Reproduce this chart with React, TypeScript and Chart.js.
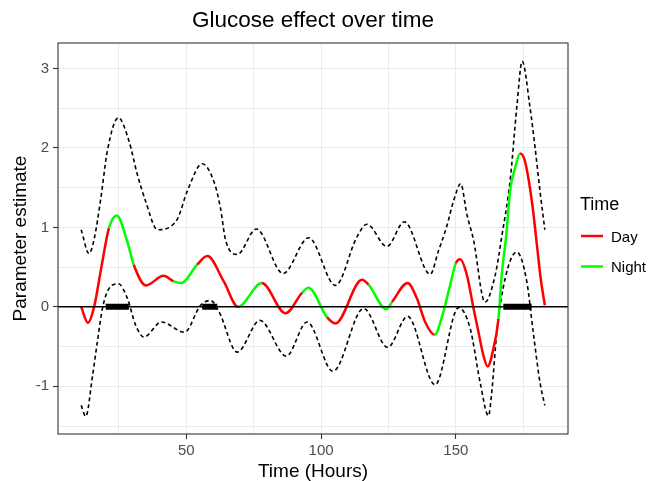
import { useEffect, useRef } from "react";
import { Chart, registerables } from "chart.js";

Chart.register(...registerables);

const FONT = "'Liberation Sans', Arial, sans-serif";

// ---- Data ----
const chartTitle = "Glucose effect over time";
const xAxisTitle = "Time (Hours)";
const yAxisTitle = "Parameter estimate";
const legendTitle = "Time";
const legendLabels = ["Day", "Night"];
const legendColors = ["#ff0000", "#00ff00"];

const meanHours = [
  11, 13.5, 15.8, 18.5, 21.3, 24.2, 28.1, 30.5, 35.0, 41.6, 45.3, 48.2, 54.0, 57.8,
  63.9, 69.2, 78.0, 86.8, 93.0, 95.3, 102.2, 105.3, 115.2, 117.6, 124.2, 126.3,
  132.1, 135.5, 138.6, 142.1, 145.4, 147.9, 150.0, 151.6, 154.1, 156.5, 158.4,
  160.2, 161.8, 163.9, 165.8, 167.0, 168.7, 170.1, 172.0, 173.8, 175.5, 177.0,
  178.5, 180.0, 181.5, 183.0,
];
const meanValues = [
  0.0, -0.2, 0.0, 0.5, 0.99, 1.15, 0.82, 0.53, 0.27, 0.39, 0.32, 0.3, 0.53, 0.64,
  0.32, 0.0, 0.3, -0.08, 0.18, 0.24, -0.13, -0.21, 0.34, 0.28, -0.03, 0.06,
  0.3, 0.11, -0.19, -0.35, -0.06, 0.28, 0.55, 0.6, 0.4, -0.01, -0.32,
  -0.61, -0.75, -0.53, -0.15, 0.4, 0.9, 1.46, 1.75, 1.93, 1.85, 1.6,
  1.25, 0.8, 0.35, 0.02,
];

const upperHours = [
  11, 13.9, 15.8, 18.3, 20.7, 24.8, 28.7, 31.8, 34.9, 39.3, 46.6, 50.4, 55.9, 60.2,
  62.7, 64.5, 68.9, 76.0, 85.9, 95.4, 105.3, 113.3, 117.0, 124.4, 130.9, 140.5,
  143.5, 146.5, 149.3, 151.8, 154.1, 156.5, 160.8, 164.6, 167.0, 170.1, 172.6,
  174.6, 177.5, 179.4, 181.2, 183.0,
];
const upperValues = [
  0.97, 0.67, 0.85, 1.37, 1.96, 2.38, 2.09, 1.67, 1.33, 0.97, 1.1, 1.46, 1.8, 1.58,
  1.24, 0.85, 0.66, 0.98, 0.42, 0.87, 0.27, 0.88, 1.04, 0.76, 1.07, 0.41,
  0.7, 1.0, 1.35, 1.55, 1.16, 0.85, 0.06, 0.4, 0.88, 1.58, 2.51,
  3.09, 2.51, 2.0, 1.46, 0.97,
];

const lowerHours = [
  11, 12.7, 15.2, 17.0, 18.9, 21.3, 24.8, 28.1, 31.2, 34.3, 40.8, 49.3, 55.3, 59.0,
  62.1, 68.9, 77.3, 87.1, 94.8, 104.4, 115.8, 124.7, 132.1, 142.3, 151.0, 155.3,
  159.0, 162.1, 163.3, 165.2, 168.3, 172.6, 176.3, 178.7, 181.2, 183.0,
];
const lowerValues = [
  -1.24, -1.38, -0.87, -0.44, -0.02, 0.23, 0.29, 0.11, -0.23, -0.38, -0.19, -0.32, 0.02, 0.08,
  -0.06, -0.57, -0.17, -0.62, -0.19, -0.81, -0.02, -0.51, -0.12, -0.98, -0.01, -0.27,
  -0.95, -1.37, -1.08, -0.32, 0.36, 0.69, 0.32, -0.32, -0.95, -1.24,
];

const nightStarts = [21.3, 45.3, 69.2, 93.0, 117.6, 142.1, 165.8];
const nightEnds = [30.5, 54.0, 78.0, 102.2, 126.3, 150.0, 173.8];

const sigStarts = [20.1, 55.9, 167.6];
const sigEnds = [28.7, 61.5, 178.1];

const xMin = 2.4;
const xMax = 191.6;
const yMin = -1.6;
const yMax = 3.32;
const xTickValues = [25, 50, 75, 100, 125, 150, 175];
const xLabeledTicks = [50, 100, 150];
const yTickValues = [-1.5, -1, -0.5, 0, 0.5, 1, 1.5, 2, 2.5, 3];
const yLabeledTicks = [-1, 0, 1, 2, 3];

const isNight = (x: number) => nightStarts.some((s, i) => x > s && x < nightEnds[i]);

const toPoints = (xs: number[], ys: number[]) => xs.map((x, i) => ({ x, y: ys[i] }));

const sigPoints = (() => {
  const pts: { x: number; y: number | null }[] = [];
  sigStarts.forEach((s, i) => {
    pts.push({ x: s, y: 0 });
    pts.push({ x: sigEnds[i], y: 0 });
    if (i < sigStarts.length - 1) pts.push({ x: (sigEnds[i] + sigStarts[i + 1]) / 2, y: null });
  });
  return pts;
})();

const ggPlugin = {
  id: "ggExtras",
  afterDraw(chart: any) {
    const { ctx, chartArea } = chart;
    ctx.save();
    // panel border
    ctx.strokeStyle = "#333333";
    ctx.lineWidth = 1.1;
    ctx.strokeRect(
      chartArea.left,
      chartArea.top,
      chartArea.right - chartArea.left,
      chartArea.bottom - chartArea.top
    );
    // legend
    const cy = (chartArea.top + chartArea.bottom) / 2;
    const x0 = chartArea.right + 12;
    ctx.textAlign = "left";
    ctx.textBaseline = "middle";
    ctx.fillStyle = "#000000";
    ctx.font = `18px ${FONT}`;
    ctx.fillText(legendTitle, x0, cy - 33);
    legendLabels.forEach((lab, i) => {
      const y = cy - 2.5 + i * 30.5;
      ctx.strokeStyle = legendColors[i];
      ctx.lineWidth = 2.5;
      ctx.beginPath();
      ctx.moveTo(x0 + 1, y);
      ctx.lineTo(x0 + 23, y);
      ctx.stroke();
      ctx.fillStyle = "#000000";
      ctx.font = `15px ${FONT}`;
      ctx.fillText(lab, x0 + 31, y + 1.5);
    });
    ctx.restore();
  },
};

export default function App() {
  const ref = useRef<HTMLCanvasElement | null>(null);

  useEffect(() => {
    if (!ref.current) return;
    Chart.defaults.font.family = FONT;
    const chart = new Chart(ref.current, {
      type: "line",
      data: {
        datasets: [
          {
            label: "upper",
            data: toPoints(upperHours, upperValues),
            borderColor: "#000000",
            borderWidth: 1.6,
            borderDash: [4, 3],
            pointRadius: 0,
            cubicInterpolationMode: "monotone",
            fill: false,
            order: 3,
          },
          {
            label: "lower",
            data: toPoints(lowerHours, lowerValues),
            borderColor: "#000000",
            borderWidth: 1.6,
            borderDash: [4, 3],
            pointRadius: 0,
            cubicInterpolationMode: "monotone",
            fill: false,
            order: 4,
          },
          {
            label: "estimate",
            data: toPoints(meanHours, meanValues),
            borderColor: legendColors[0],
            borderWidth: 2.5,
            pointRadius: 0,
            cubicInterpolationMode: "monotone",
            fill: false,
            segment: {
              borderColor: (c: any) =>
                isNight((c.p0.parsed.x + c.p1.parsed.x) / 2) ? legendColors[1] : legendColors[0],
            },
            order: 2,
          },
          {
            label: "zero",
            data: [
              { x: xMin, y: 0 },
              { x: xMax, y: 0 },
            ],
            borderColor: "#000000",
            borderWidth: 1.5,
            pointRadius: 0,
            fill: false,
            order: 1,
          },
          {
            label: "significant",
            data: sigPoints,
            borderColor: "#000000",
            borderWidth: 6,
            borderCapStyle: "butt",
            pointRadius: 0,
            spanGaps: false,
            fill: false,
            order: 0,
          },
        ],
      } as any,
      options: {
        animation: false,
        responsive: false,
        layout: { padding: { left: 0, right: 81, top: 0, bottom: 0 } },
        plugins: {
          legend: { display: false },
          tooltip: { enabled: false },
          title: {
            display: true,
            text: chartTitle,
            color: "#000000",
            font: { size: 22.5, weight: "normal", family: FONT },
            padding: { top: 7, bottom: 9 },
            fullSize: false,
          },
        },
        scales: {
          x: {
            type: "linear",
            min: xMin,
            max: xMax,
            afterBuildTicks: (s: any) => {
              s.ticks = xTickValues.map((v) => ({ value: v }));
            },
            afterFit: (s: any) => {
              s.height = 47;
            },
            ticks: {
              autoSkip: false,
              maxRotation: 0,
              padding: 3,
              color: "#4d4d4d",
              font: { size: 15, family: FONT },
              callback: (v: any) => (xLabeledTicks.includes(Number(v)) ? String(v) : ""),
            },
            grid: {
              color: "#ebebeb",
              lineWidth: 1,
              tickLength: 5,
              tickWidth: 1.1,
              tickColor: (c: any) =>
                c.tick && xLabeledTicks.includes(c.tick.value) ? "#333333" : "rgba(0,0,0,0)",
            },
            border: { display: false },
            title: {
              display: true,
              text: xAxisTitle,
              color: "#000000",
              font: { size: 19, family: FONT, lineHeight: 1 },
              padding: { top: 0, bottom: 0 },
            },
          },
          y: {
            type: "linear",
            min: yMin,
            max: yMax,
            afterBuildTicks: (s: any) => {
              s.ticks = yTickValues.map((v) => ({ value: v }));
            },
            afterFit: (s: any) => {
              s.width = 58;
            },
            ticks: {
              autoSkip: false,
              padding: 4,
              color: "#4d4d4d",
              font: { size: 15, family: FONT },
              callback: (v: any) => (yLabeledTicks.includes(Number(v)) ? String(v) : ""),
            },
            grid: {
              color: "#ebebeb",
              lineWidth: 1,
              tickLength: 5,
              tickWidth: 1.1,
              tickColor: (c: any) =>
                c.tick && yLabeledTicks.includes(c.tick.value) ? "#333333" : "rgba(0,0,0,0)",
            },
            border: { display: false },
            title: {
              display: true,
              text: yAxisTitle,
              color: "#000000",
              font: { size: 19, family: FONT, lineHeight: 1 },
              padding: { top: 11.5, bottom: 0 },
            },
          },
        },
      } as any,
      plugins: [ggPlugin],
    });
    return () => chart.destroy();
  }, []);

  return (
    <div style={{ position: "fixed", left: 0, top: 0, width: 649, height: 481, background: "#ffffff" }}>
      <canvas ref={ref} width={649} height={481} style={{ display: "block" }} />
    </div>
  );
}
